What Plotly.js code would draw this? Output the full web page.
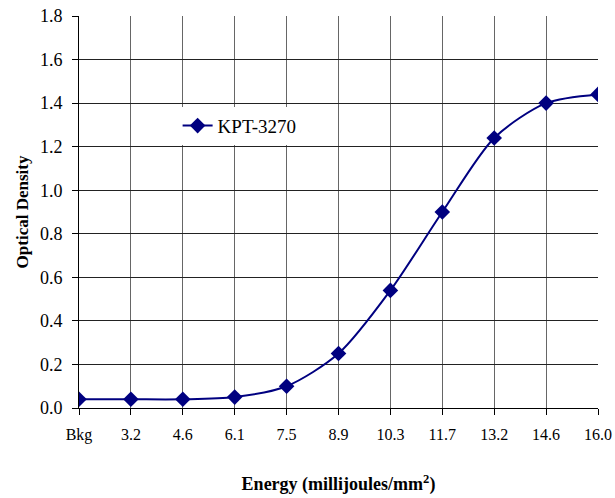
<!DOCTYPE html>
<html>
<head>
<meta charset="utf-8">
<script src="https://cdn.plot.ly/plotly-3.0.1.min.js"></script>
<style>html,body{margin:0;padding:0;background:#fff;}#chart{width:615px;height:498px;}</style>
</head>
<body>
<div id="chart"></div>
<script>
var categories = ["Bkg", "3.2", "4.6", "6.1", "7.5", "8.9", "10.3", "11.7", "13.2", "14.6", "16.0"];
var opticalDensity = [0.04, 0.04, 0.04, 0.05, 0.10, 0.25, 0.54, 0.90, 1.24, 1.40, 1.44];
var seriesName = "KPT-3270";

var idx = categories.map(function(_, i){ return i; });

var trace = {
  x: idx,
  y: opticalDensity,
  type: 'scatter',
  mode: 'lines+markers',
  name: seriesName,
  line: {color: '#000080', width: 2, shape: 'spline', smoothing: 0.8},
  marker: {symbol: 'diamond', size: 12, color: '#000080'}
};

var font = "Liberation Serif, Times New Roman, serif";

var layout = {
  width: 615, height: 498,
  margin: {l: 79, r: 17, t: 16, b: 90},
  paper_bgcolor: '#fff', plot_bgcolor: '#fff',
  font: {family: font, size: 16, color: '#000'},
  showlegend: true,
  legend: {x: 0.19, y: 0.72, xanchor: 'left', yanchor: 'middle', bgcolor: '#fff',
           font: {family: font, size: 19, color: '#000'}, borderwidth: 0},
  xaxis: {
    range: [0, 10], tickvals: idx, ticktext: categories,
    showgrid: true, gridcolor: '#666', gridwidth: 1,
    showline: true, linecolor: '#000', linewidth: 1, mirror: false,
    ticks: 'outside', ticklen: 6, tickcolor: '#000', ticklabelstandoff: 6,
    tickfont: {family: font, size: 16}, zeroline: false,
    title: {text: '<b>Energy (millijoules/mm<sup>2</sup>)</b>', font: {family: font, size: 18}, standoff: 34}
  },
  yaxis: {
    range: [0, 1.8], dtick: 0.2, tickformat: '.1f',
    showgrid: true, gridcolor: '#222', gridwidth: 1,
    showline: true, linecolor: '#000', linewidth: 1,
    ticks: 'outside', ticklen: 6, tickcolor: '#000', ticklabelstandoff: 6,
    tickfont: {family: font, size: 18}, zeroline: false,
    title: {text: '<b>Optical Density</b>', font: {family: font, size: 17}, standoff: 6}
  }
};

Plotly.newPlot('chart', [trace], layout, {displayModeBar: false, staticPlot: true});
</script>
</body>
</html>
